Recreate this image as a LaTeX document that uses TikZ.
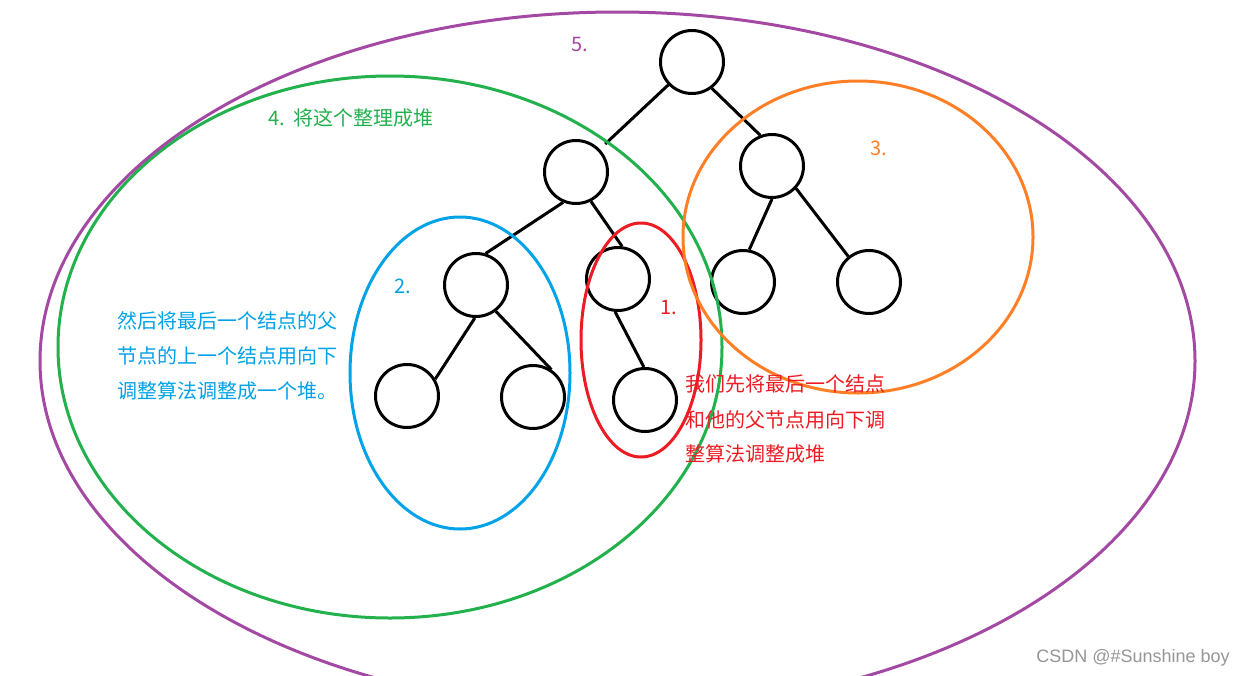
\documentclass[tikz,border=0pt]{standalone}
\usepackage{fontspec}
\newfontfamily\cjk{Noto Sans CJK SC}
\newfontfamily\wmfont{Liberation Sans}
\definecolor{ppurple}{RGB}{163,73,164}
\definecolor{pgreen}{RGB}{34,177,76}
\definecolor{pblue}{RGB}{0,162,232}
\definecolor{pred}{RGB}{237,28,36}
\definecolor{porange}{RGB}{255,127,39}
\definecolor{wmgray}{RGB}{150,150,150}
\begin{document}
\begin{tikzpicture}[x=0.75pt,y=-0.75pt,
  tnode/.style={circle,draw=black,line width=2.25pt,minimum size=47.25pt,inner sep=0pt},
  link/.style={draw=black,line width=2.25pt},
  hull/.style={line width=2.25pt},
  lbl/.style={anchor=base west,inner sep=0pt,font=\cjk\fontsize{15pt}{18pt}\selectfont},
]
\useasboundingbox[fill=white] (0,0) rectangle (1245,675);

% tree nodes
\node[tnode] (r) at (692,62) {};
\node[tnode] (a) at (576,172) {};
\node[tnode] (b) at (772,166) {};
\node[tnode] (c) at (476,285) {};
\node[tnode] (d) at (618,279) {};
\node[tnode] (e) at (743,282) {};
\node[tnode] (f) at (869,282) {};
\node[tnode] (g) at (407,396) {};
\node[tnode] (h) at (533,397) {};
\node[tnode] (i) at (645,400) {};

% edges
\draw[link,shorten >=5.6pt] (r.224) -- (a.44);
\draw[link] (r.307) -- (b.111);
\draw[link] (a.247) -- (c.73);
\draw[link] (a.297) -- (d.83);
\draw[link] (c.268) -- (g.31);
\draw[link] (c.307) -- (h.56);
\draw[link] (d.265) -- (i.92);
\draw[link] (b.270) -- (e.79);
\draw[link] (b.317) -- (f.129);

% coloured groupings
\draw[hull,pgreen] (390,347) ellipse [x radius=332, y radius=271];
\draw[hull,pblue] (460,373) ellipse [x radius=110, y radius=156];
\draw[hull,pred] (641,340) ellipse [x radius=60, y radius=117];
\draw[hull,porange] (858,237) ellipse [x radius=175, y radius=156];
\begin{scope}
\clip (0,0) rectangle (1245,675);
\draw[hull,ppurple] (617.5,361) ellipse [x radius=577.5, y radius=349];
\end{scope}

% labels
\node[lbl,text=ppurple] (t5) at (571,51) {5.};
\node[lbl,text=pgreen] (t4) at (268,125) {4.\hspace{6.4pt}将这个整理成堆};
\node[lbl,text=porange] (t3) at (870,155) {3.};
\node[lbl,text=pblue] (t2) at (394,293) {2.};
\node[lbl,text=pred] (t1) at (660,314) {1.};
\node[lbl,text=pblue] (bl1) at (117,328) {然后将最后一个结点的父};
\node[lbl,text=pblue] (bl2) at (117,363) {节点的上一个结点用向下};
\node[lbl,text=pblue] (bl3) at (117,398) {调整算法调整成一个堆。};
\node[lbl,text=pred] (rl1) at (685,391) {我们先将最后一个结点};
\node[lbl,text=pred] (rl2) at (685,427) {和他的父节点用向下调};
\node[lbl,text=pred] (rl3) at (685,461) {整算法调整成堆};
\node[anchor=base west,inner sep=0pt,text=wmgray,font=\wmfont\fontsize{13.5pt}{16pt}\selectfont] (wm) at (1036,662) {CSDN @\#Sunshine boy};
\end{tikzpicture}
\end{document}
